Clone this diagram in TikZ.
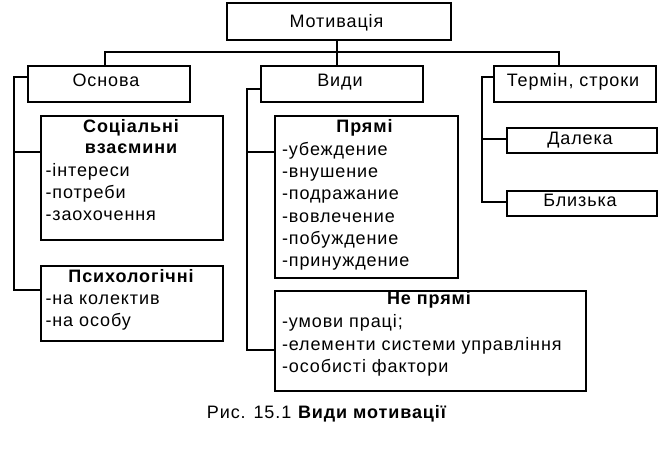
\documentclass[tikz,border=0pt]{standalone}
\usepackage{fontspec}
\setmainfont{Liberation Sans}[LetterSpace=5]
\begin{document}
\begin{tikzpicture}[x=1bp,y=-1bp,line width=2bp,
  box/.style={draw,line width=2bp,inner sep=0pt,anchor=north west},
  txt/.style={inner sep=0pt,font=\fontsize{18bp}{22bp}\selectfont},
  ttl/.style={txt,anchor=base,font=\fontsize{18bp}{22bp}\selectfont\bfseries},
  itm/.style={txt,anchor=base west}]
\useasboundingbox (0,0) rectangle (658,464);
% boxes
\node[box,minimum width=224bp,minimum height=37bp] (mot) at (226,2) {};
\node[box,minimum width=162bp,minimum height=36bp] (osn) at (27,65) {};
\node[box,minimum width=162bp,minimum height=36bp] (vid) at (260,65) {};
\node[box,minimum width=162bp,minimum height=36bp] (term) at (493,65) {};
\node[box,minimum width=182bp,minimum height=124bp] (soc) at (40,115) {};
\node[box,minimum width=182bp,minimum height=75bp] (psy) at (40,265) {};
\node[box,minimum width=183bp,minimum height=162bp] (pr) at (273.5,115) {};
\node[box,minimum width=311.5bp,minimum height=100bp] (npr) at (273.5,290) {};
\node[box,minimum width=150bp,minimum height=25bp] (dal) at (506,127) {};
\node[box,minimum width=150bp,minimum height=25bp] (bli) at (506,190) {};
% connectors
\coordinate (busL) at (105,52);
\coordinate (busR) at (559,52);
\coordinate (busM) at (337,52);
\draw (busL |- osn.north) -- (busL) -- (busR) -- (busR |- term.north);
\draw (busM |- mot.south) -- (busM |- vid.north);
\coordinate (spA) at (14,77);
\draw (osn.west |- spA) -- (spA) |- (psy.west |- 0,290);
\draw (spA |- 0,152) -- (soc.west |- 0,152);
\coordinate (spB) at (247,89);
\draw (vid.west |- spB) -- (spB) |- (npr.west |- 0,350);
\draw (spB |- 0,152) -- (pr.west |- 0,152);
\coordinate (spC) at (482,77);
\draw (term.west |- spC) -- (spC) |- (bli.west |- 0,202);
\draw (spC |- 0,139) -- (dal.west |- 0,139);
% texts
\node[txt,anchor=base] (tmot) at (336.5,28) {Мотивація};
\node[txt,anchor=base] (tosn) at (106,87) {Основа};
\node[txt,anchor=base] (tvid) at (340,87) {Види};
\node[txt,anchor=base] (tterm) at (573,87) {Термін, строки};
\node[txt,anchor=base] (tdal) at (580,145) {Далека};
\node[txt,anchor=base] (tbli) at (580,207) {Близька};
\node[ttl] (tsoc1) at (131,133) {Соціальні};
\node[ttl] (tsoc2) at (131,154) {взаємини};
\node[itm] (tsoc3) at (44.5,177) {-інтереси};
\node[itm] (tsoc4) at (44.5,199) {-потреби};
\node[itm] (tsoc5) at (44.5,221) {-заохочення};
\node[ttl] (tpsy1) at (131,283) {Психологічні};
\node[itm] (tpsy2) at (44.5,305) {-на колектив};
\node[itm] (tpsy3) at (44.5,327) {-на особу};
\node[ttl] (tpr0) at (364.5,133) {Прямі};
\foreach \t [count=\i] in {-убеждение,-внушение,-подражание,-вовлечение,-побуждение,-принуждение}
  \node[itm] (tpr\i) at (281,{133+22.33*\i}) {\t};
\node[ttl] (tnpr0) at (429,305) {Не прямі};
\node[itm] (tnpr1) at (281,327.5) {-умови праці;};
\node[itm] (tnpr2) at (281,350) {-елементи системи управління};
\node[itm] (tnpr3) at (281,372.5) {-особисті фактори};
\node[txt,anchor=base] (cap) at (327,418) {Рис. 15.1 \textbf{Види мотивації}};
\end{tikzpicture}
\end{document}
